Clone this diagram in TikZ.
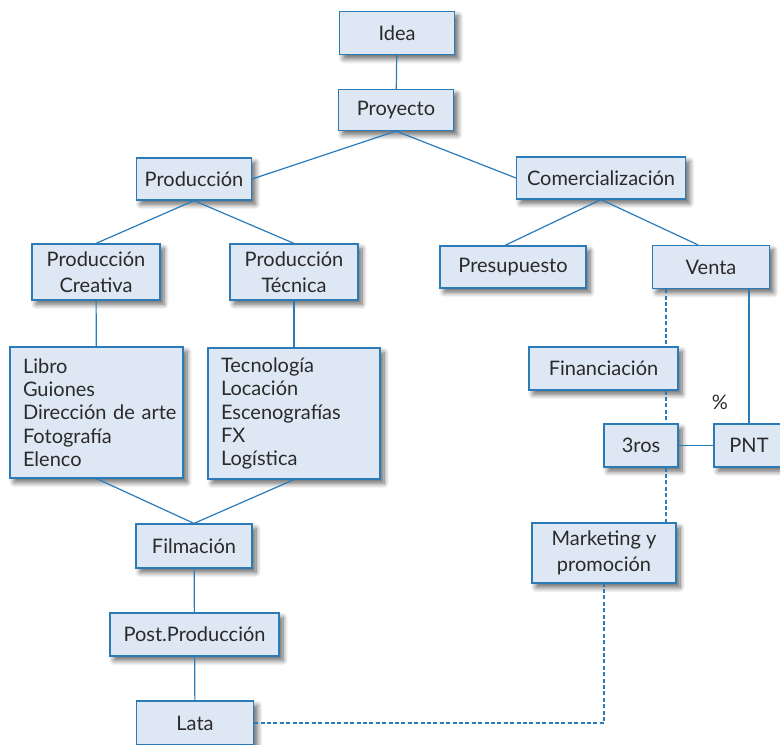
\documentclass[tikz,border=0pt]{standalone}
\usepackage{fontspec}
\setmainfont{Lato}
\usetikzlibrary{positioning,shadows.blur}

\definecolor{boxfill}{HTML}{DDE8F4}
\definecolor{boxline}{HTML}{2B7BB9}
\definecolor{boxtext}{HTML}{2A2A2A}

\begin{document}
\begin{tikzpicture}[x=0.5pt,y=-0.5pt,
       stage/.style={
         rectangle,
         draw=boxline,
         fill=boxfill,
         line width=0.6pt,
         text=boxtext,
         inner sep=0pt,
         align=center,
         font=\fontsize{10}{12.75}\selectfont,
         blur shadow={shadow xshift=2pt, shadow yshift=-2.2pt,
           shadow blur radius=2.5pt, shadow blur steps=8, shadow opacity=60}},
       list/.style={stage, align=left, inner xsep=6.5pt, text width=#1,
         font=\fontsize{10}{11.6}\selectfont},
       link/.style={draw=boxline, line width=0.6pt},
       weak/.style={link, dash pattern=on 2pt off 1.2pt}
      ]
      \useasboundingbox (0,0) rectangle (780,744);

      \node[stage, minimum width=57.5pt, minimum height=21.5pt] (Idea) at (397,33) {Idea};
      \node[stage, minimum width=57.5pt, minimum height=20.5pt] (Proy) at (396,110) {Proyecto};
      \node[stage, minimum width=57.5pt, minimum height=21pt] (Prod) at (194,179) {Producción};
      \node[stage, minimum width=84.5pt, minimum height=21pt] (Com) at (601,178) {Comercialización};

      \node[stage, minimum width=64pt, minimum height=28pt] (PCre) at (96,272) {Producción\\Creativa};
      \node[stage, minimum width=64pt, minimum height=28pt] (PTec) at (294,272) {Producción\\Técnica};
      \node[stage, minimum width=73pt, minimum height=21pt] (Pres) at (513,267) {Presupuesto};
      \node[stage, minimum width=58.5pt, minimum height=21.5pt] (Venta) at (711,267) {Venta};

      \node[list=73.5pt, minimum height=65.5pt] (LCre) at (96.5,412.5)
        {Libro\\Guiones\\Dirección~de~arte\\Fotografía\\Elenco};
      \node[list=73pt, minimum height=65.5pt] (LTec) at (294,413.5)
        {Tecnología\\Locación\\Escenografías\\FX\\Logística};

      \node[stage, minimum width=74.5pt, minimum height=21.5pt] (Fin) at (603.5,368.5) {Financiación};
      \node[stage, minimum width=37pt, minimum height=21.5pt] (Ter) at (641,445.5) {3ros};
      \node[stage, minimum width=35pt, minimum height=21.5pt] (PNT) at (749,445.5) {PNT};
      \node[font=\fontsize{10}{12}\selectfont, text=boxtext] (Pct) at (720,402) {\%};
      \node[stage, minimum width=72pt, minimum height=30pt] (Mkt) at (604,553) {Marketing y\\promoción};

      \node[stage, minimum width=58pt, minimum height=22pt] (Film) at (194,546) {Filmación};
      \node[stage, minimum width=84.5pt, minimum height=21.5pt] (Post) at (194.5,634.5) {Post.Producción};
      \node[stage, minimum width=58.5pt, minimum height=22pt] (Lata) at (195,723) {Lata};

      \coordinate (vx) at (666,0);

      % solid links
      \draw[link] (Idea) -- (Proy);
      \draw[link] (Proy.south) -- (Prod.east);
      \draw[link] (Proy.south) -- (Com.west);
      \draw[link] (Prod.south) -- (PCre.north);
      \draw[link] (Prod.south) -- (PTec.north);
      \draw[link] (Com.south) -- ([xshift=-4pt]Pres.north);
      \draw[link] (Com.south) -- ([xshift=-6.5pt]Venta.north);
      \draw[link] (PCre) -- (LCre);
      \draw[link] (PTec) -- (LTec);
      \draw[link] (LCre.south) -- (Film.north);
      \draw[link] (LTec.south) -- (Film.north);
      \draw[link] (Film) -- (Post);
      \draw[link] (Post) -- (Lata);
      \draw[link] (Venta.south -| PNT.north) -- (PNT.north);
      \draw[link] (Ter) -- (PNT);

      % dashed links
      \draw[weak] (Venta.south -| vx) -- (Fin.north -| vx);
      \draw[weak] (Fin.south -| vx) -- (Ter.north -| vx);
      \draw[weak] (Ter.south -| vx) -- (Mkt.north -| vx);
      \draw[weak] (Lata.east) -| (Mkt.south);

\end{tikzpicture}
\end{document}
